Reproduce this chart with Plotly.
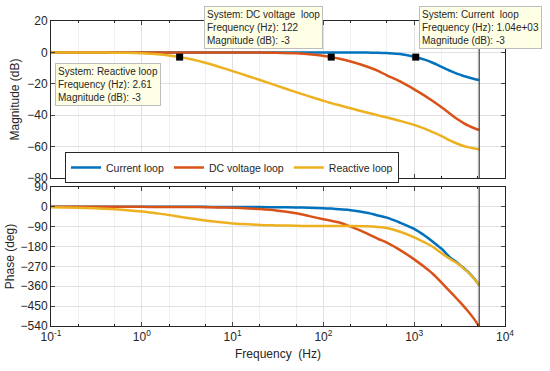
import plotly.graph_objects as go

# ---------------- data ----------------
freq = [0.1, 0.2, 0.3, 0.5, 0.7, 1, 1.5, 2, 2.61, 3.5, 5, 7, 10, 15, 20, 30, 50, 70,
        100, 122, 150, 200, 300, 400, 500, 700, 1000, 1300, 1600, 2000, 2500, 3000,
        3500, 4000, 4600, 5200]

mag_current = [0, 0, 0, 0, 0, 0, 0, 0, 0, 0, 0, 0, 0, 0, 0, 0, 0, 0,
               0, -0.02, -0.03, -0.05, -0.12, -0.25, -0.45, -1.0, -2.8, -4.6, -6.6,
               -9.2, -11.8, -13.7, -15.0, -16.0, -16.9, -17.6]
mag_dc = [0, 0, 0, 0, 0, 0, 0, 0, 0, 0, 0, -0.02, -0.03, -0.07, -0.12, -0.25, -0.6,
          -1.1, -2.1, -3.0, -4.0, -5.8, -9.0, -11.8, -14.6, -18.5, -23.5, -27.5, -31.0,
          -35.0, -39.2, -42.6, -45.0, -46.8, -48.3, -49.4]
mag_reactive = [0, -0.03, -0.06, -0.16, -0.3, -0.6, -1.2, -2.0, -3.0, -4.4, -6.6, -9.1,
                -11.9, -15.2, -17.6, -21.0, -25.3, -28.0, -30.8, -32.3, -33.7, -35.6,
                -38.3, -40.1, -41.5, -43.6, -46.2, -48.6, -50.8, -53.3, -56.2, -58.2,
                -59.6, -60.5, -61.2, -61.7]

ph_current = [0, 0, 0, 0, 0, 0, 0, 0, 0, 0, 0, -0.3, -0.5, -0.7, -1, -1.5, -2.5, -4,
              -6, -8, -11, -15, -27, -39, -49, -72, -100, -130, -158, -190, -230, -254,
              -277, -298, -326, -355]
ph_dc = [0, 0, 0, 0, 0, 0, -0.3, -0.5, -0.8, -1, -1.5, -2.5, -4, -7, -10, -16, -29,
         -42, -56, -63, -71, -90, -120, -145, -162, -196, -238, -273, -303, -343, -385,
         -420, -450, -478, -510, -542]
ph_reactive = [-2, -4.5, -6.5, -11, -15, -21, -30, -37, -45, -53, -62, -69, -75, -79,
               -82, -84, -86, -86.5, -87, -87, -87, -87, -88, -91, -96, -113, -138, -161,
               -181, -210, -237, -257, -279, -300, -327, -355]

names = ["Current loop", "DC voltage loop", "Reactive loop"]
colors = ["#0072BD", "#D95319", "#EDB120"]

tips_freq = [1040, 122, 2.61]          # data tips: Current, DC voltage, Reactive
tips_mag = [-3, -3, -3]
tips_text = ["1.04e+03", "122", "2.61"]
tips_sys = ["Current&nbsp; loop", "DC voltage&nbsp; loop", "Reactive loop"]

nyquist_f = 5200
xtick_vals = [0.1, 1, 10, 100, 1000, 10000]
xtick_text = ["10<sup>-1</sup>", "10<sup>0</sup>", "10<sup>1</sup>", "10<sup>2</sup>",
              "10<sup>3</sup>", "10<sup>4</sup>"]
mag_ticks = [-80, -60, -40, -20, 0, 20]
ph_ticks = [-540, -450, -360, -270, -180, -90, 0, 90]

# ---------------- figure ----------------
fig = go.Figure()
mags = [mag_current, mag_dc, mag_reactive]
phs = [ph_current, ph_dc, ph_reactive]

for i in range(3):
    fig.add_trace(go.Scatter(x=freq, y=mags[i], name=names[i], mode="lines",
                             line=dict(color=colors[i], width=2.5, shape="spline",
                                       smoothing=0.8),
                             xaxis="x", yaxis="y"))
for i in range(3):
    fig.add_trace(go.Scatter(x=freq, y=phs[i], name=names[i], mode="lines",
                             line=dict(color=colors[i], width=2.5, shape="spline",
                                       smoothing=0.8),
                             xaxis="x2", yaxis="y2", showlegend=False))

# Nyquist line
fig.add_trace(go.Scatter(x=[nyquist_f, nyquist_f], y=[mag_ticks[0], mag_ticks[-1]],
                         mode="lines", line=dict(color="#404040", width=1.2),
                         xaxis="x", yaxis="y", showlegend=False))
fig.add_trace(go.Scatter(x=[nyquist_f, nyquist_f], y=[ph_ticks[0], ph_ticks[-1]],
                         mode="lines", line=dict(color="#404040", width=1.2),
                         xaxis="x2", yaxis="y2", showlegend=False))

# data tip markers
fig.add_trace(go.Scatter(x=tips_freq, y=tips_mag, mode="markers",
                         marker=dict(symbol="square", color="black", size=7),
                         xaxis="x", yaxis="y", showlegend=False))

W, H = 550, 371
L, R, T, B = 51, 45, 21, 45
pw, ph = W - L - R, H - T - B


def px2paper(xp, yp):
    return (xp - L) / pw, (H - B - yp) / ph


tip_font = dict(family="Liberation Sans, Arial, sans-serif", size=10, color="#262626")
box_pos = [(419, 6), (204, 6), (55, 63)]
for i in range(3):
    xp, yp = px2paper(*box_pos[i])
    fig.add_annotation(
        xref="paper", yref="paper", x=xp, y=yp, xanchor="left", yanchor="top",
        text=(f"System: {tips_sys[i]}"
              f"<br>Frequency (Hz): {tips_text[i]}<br>Magnitude (dB): {tips_mag[i]}"),
        showarrow=False, align="left", font=tip_font,
        bgcolor="#FFFFE6", bordercolor="#BDBDBD", borderwidth=1, borderpad=2)

axis_font = dict(family="Liberation Sans, Arial, sans-serif", size=12, color="#262626")
common_x = dict(type="log", range=[-1, 4], tickvals=xtick_vals, ticks="inside",
                ticklen=4, showline=True, linecolor="#262626", linewidth=1,
                mirror="ticks", showgrid=True, gridcolor="#E0E0E0", zeroline=False,
                tickfont=axis_font, automargin=False,
                minor=dict(ticks="inside", ticklen=2, showgrid=True,
                           gridcolor="#F0F0F0", tickcolor="#262626"))
common_y = dict(ticks="inside", ticklen=4, showline=True, linecolor="#262626",
                linewidth=1, mirror="ticks", showgrid=True, gridcolor="#E0E0E0",
                zeroline=False, tickfont=axis_font, automargin=False)

top_dom = [(H - B - 178) / ph, 1]
bot_dom = [0, (H - B - 187) / ph]

fig.update_layout(
    width=W, height=H, margin=dict(l=L, r=R, t=T, b=B, autoexpand=False),
    paper_bgcolor="white", plot_bgcolor="white",
    font=axis_font,
    xaxis=dict(common_x, domain=[0, 1], anchor="y", showticklabels=False),
    yaxis=dict(common_y, domain=top_dom, range=[-80, 20], tickvals=mag_ticks,
               title=dict(text="Magnitude (dB)", standoff=5, font=axis_font)),
    xaxis2=dict(common_x, domain=[0, 1], anchor="y2", ticktext=xtick_text,
                title=dict(text="Frequency &nbsp;(Hz)", standoff=6, font=axis_font)),
    yaxis2=dict(common_y, domain=bot_dom, range=[-540, 90], tickvals=ph_ticks,
                title=dict(text="Phase (deg)", standoff=3, font=axis_font)),
    legend=dict(orientation="h", x=(65 - L) / pw, y=(H - B - 152) / ph,
                xanchor="left", yanchor="top", bgcolor="white",
                bordercolor="#262626", borderwidth=1,
                font=dict(family="Liberation Sans, Arial, sans-serif", size=10.5,
                          color="#262626"),
                itemwidth=30, tracegroupgap=0),
    showlegend=True,
    hovermode=False,
)

# remove the browser's default 8px page margin so the figure sits at (0, 0)
fig.write_html("out.html",
               config={"displayModeBar": False, "staticPlot": True},
               post_script="document.body.style.margin='0';"
                           "document.body.style.overflow='hidden';")
